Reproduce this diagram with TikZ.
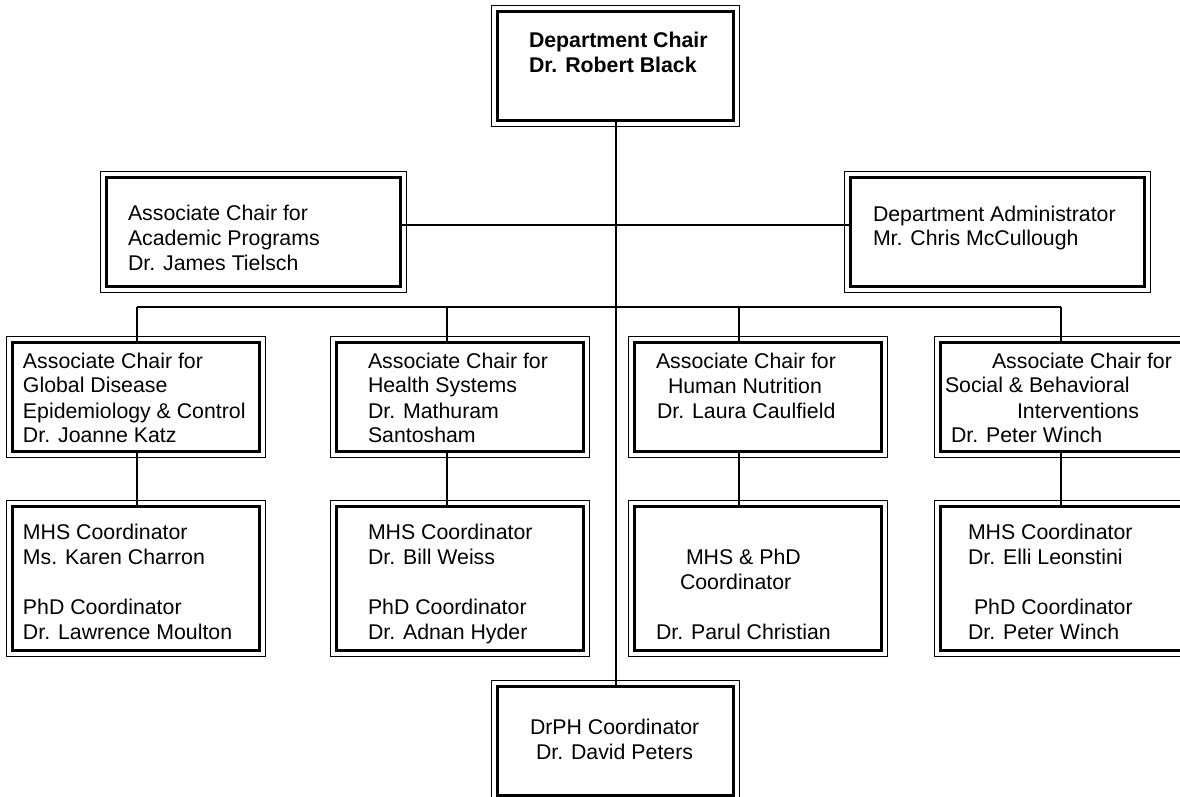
\documentclass[tikz,border=0pt]{standalone}
\usepackage{fontspec}
\setmainfont{Liberation Sans}

\begin{document}
\begin{tikzpicture}[x=0.5pt, y=-0.5pt, line width=1pt,
        box/.style={draw, line width=1.5pt, inner sep=0pt, minimum height=54.5pt},
        unit/.style={box, minimum width=123.5pt},
        coord/.style={unit, minimum height=72pt},
        txt/.style={anchor=north west, inner sep=0pt, align=left, font=\fontsize{10.65}{12.5}\selectfont}]
        \useasboundingbox (0, 0) rectangle (1180, 797);
        \path (615.5, 66) node[box, minimum width=118pt] (chair) {} (253.5, 232) node[box, minimum width=147pt] (acad) {} (997.5, 232) node[box, minimum width=147pt] (admin) {} (615.5, 741) node[box, minimum width=118pt] (drph) {};
        \path (136, 397) node[unit] (gde) {} (460, 397) node[unit] (hs) {} (758, 397) node[unit] (hn) {} (1064, 397) node[unit] (sbi) {};
        \path (136, 578.5) node[coord] (gdec) {} (460, 578.5) node[coord] (hsc) {} (758, 578.5) node[coord] (hnc) {} (1064, 578.5) node[coord] (sbic) {};
        \foreach \b in {chair, acad, admin, drph, gde, hs, hn, sbi, gdec, hsc, hnc, sbic}
            \draw[line width=0.5pt] ([shift={(-4.5, -4.5)}]\b.north west) rectangle ([shift={(4.5, 4.5)}]\b.south east);

        \path (528, 29.5) node[txt, font=\fontsize{10.65}{12.5}\selectfont\bfseries] (chairtxt) {\strut Department Chair\\Dr. Robert Black};
        \path (127, 202.5) node[txt] (acadtxt) {\strut Associate Chair for\\Academic Programs\\Dr. James Tielsch};
        \path (872, 202.5) node[txt] (admintxt) {\strut Department Administrator\\Mr. Chris McCullough};
        \path (22, 349.5) node[txt] (gdetxt) {\strut Associate Chair for\\Global Disease\\Epidemiology \& Control\\Dr. Joanne Katz};
        \path (367, 349.5) node[txt] (hstxt) {\strut Associate Chair for\\Health Systems\\Dr. Mathuram\\Santosham};
        \path (655, 349.5) node[txt] (hntxt) {\strut Associate Chair for\\\hspace*{6pt}Human Nutrition\\\hspace*{0.5pt}Dr. Laura Caulfield};
        \path (944, 349.5) node[txt] (sbitxt) {\strut\hspace*{23.5pt}Associate Chair for\\Social \& Behavioral\\\hspace*{36pt}Interventions\\\hspace*{3pt}Dr. Peter Winch};
        \path (22, 520.5) node[txt] (gdectxt) {\strut MHS Coordinator\\Ms. Karen Charron\\[12.5pt]PhD Coordinator\\Dr. Lawrence Moulton};
        \path (367, 520.5) node[txt] (hsctxt) {\strut MHS Coordinator\\Dr. Bill Weiss\\[12.5pt]PhD Coordinator\\Dr. Adnan Hyder};
        \path (655, 545.5) node[txt] (hnctxt) {\strut\hspace*{15pt}MHS \& PhD\\\hspace*{12pt}Coordinator\\[12.5pt]Dr. Parul Christian};
        \path (967, 520.5) node[txt] (sbictxt) {\strut MHS Coordinator\\Dr. Elli Leonstini\\[12.5pt]\hspace*{3pt}PhD Coordinator\\Dr. Peter Winch};
        \path (529, 715.5) node[txt] (drphtxt) {\strut DrPH Coordinator\\\hspace*{3pt}Dr. David Peters};

        \coordinate (hub) at (615, 225);
        \coordinate (bus) at (615, 307);
        \draw (chair) -- (drph);
        \draw (hub -| acad.east) -- (hub -| admin.west);
        \draw ([xshift=0.5pt]gde.north |- bus) -- ([xshift=-1.5pt]sbi.north |- bus);
        \foreach \b/\c/\o in {gde/gdec/1, hs/hsc/-13, hn/hnc/-19, sbi/sbic/-3} {
            \draw ([xshift=\o*0.5pt]\b.north) -- ([xshift=\o*0.5pt]\b.north |- bus);
            \draw ([xshift=\o*0.5pt]\b.south) -- ([xshift=\o*0.5pt]\c.north);
        }
    \end{tikzpicture}
\end{document}
